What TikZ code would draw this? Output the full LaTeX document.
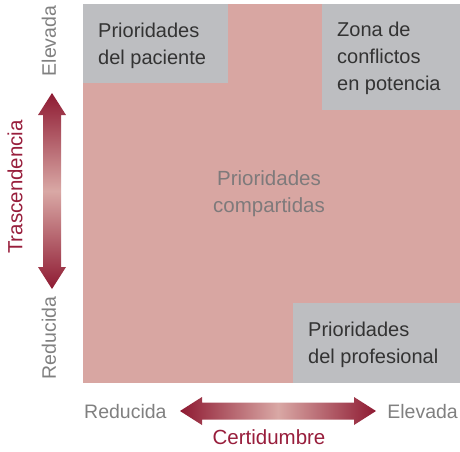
\documentclass[tikz,border=0pt]{standalone}
\usepackage{fontspec}
\setmainfont{Liberation Sans}
\definecolor{pinkbg}{HTML}{D8A6A2}
\definecolor{graybox}{HTML}{BDBEC1}
\definecolor{darkred}{HTML}{8E1A32}
\definecolor{lightred}{HTML}{D9A8A5}
\definecolor{redtext}{HTML}{981E3C}
\definecolor{axisgray}{HTML}{808080}
\definecolor{boxtext}{HTML}{333333}
\definecolor{midtext}{HTML}{7E7A7B}
\tikzset{
  quadtext/.style={font=\fontsize{20}{27}\selectfont, text=boxtext, align=left, inner sep=0pt, anchor=base west},
  axislabel/.style={font=\fontsize{19.5}{22}\selectfont, text=axisgray, inner sep=0pt},
  axistitle/.style={font=\fontsize{20.5}{22}\selectfont, text=redtext, inner sep=0pt},
}
\begin{document}
\begin{tikzpicture}[x=1pt,y=-1pt]
\useasboundingbox (0,0) rectangle (460,451);
% main square
\fill[pinkbg] (83,4) rectangle (460,383);
\fill[graybox] (83,4) rectangle (228,83);
\fill[graybox] (322,4) rectangle (460,110);
\fill[graybox] (293,303) rectangle (460,383);
% quadrant texts (anchored at the baseline of the last line)
\node[quadtext] (pac) at (98,64) {Prioridades\\del paciente};
\node[quadtext] (conf) at (337,90) {Zona de\\conflictos\\en potencia};
\node[quadtext] (prof) at (308,363) {Prioridades\\del profesional};
\node[font=\fontsize{20.5}{27}\selectfont, text=midtext, align=center, inner sep=0pt, anchor=base] (comp) at (269,212) {Prioridades\\compartidas};
% vertical arrow
\shade[top color=darkred, bottom color=darkred, middle color=lightred]
  (52,93) -- (66,115) -- (61,115) -- (61,267) -- (66,267) -- (52,289) -- (38,267) -- (43,267) -- (43,115) -- (38,115) -- cycle;
% horizontal arrow
\shade[left color=darkred, right color=darkred, middle color=lightred]
  (180,411) -- (202,397) -- (202,402.5) -- (354,402.5) -- (354,397) -- (376,411) -- (354,425) -- (354,419.5) -- (202,419.5) -- (202,425) -- cycle;
% axis labels
\node[axislabel, rotate=90] (velev) at (49,41) {Elevada};
\node[axislabel, rotate=90] (vred) at (49,338) {Reducida};
\node[axistitle, rotate=90] (trasc) at (15,187) {Trascendencia};
\node[axislabel, anchor=base west] (hred) at (84,418) {Reducida};
\node[axislabel, anchor=base east] (helev) at (458,418) {Elevada};
\node[axistitle, anchor=base] (cert) at (269,444) {Certidumbre};
\end{tikzpicture}
\end{document}
